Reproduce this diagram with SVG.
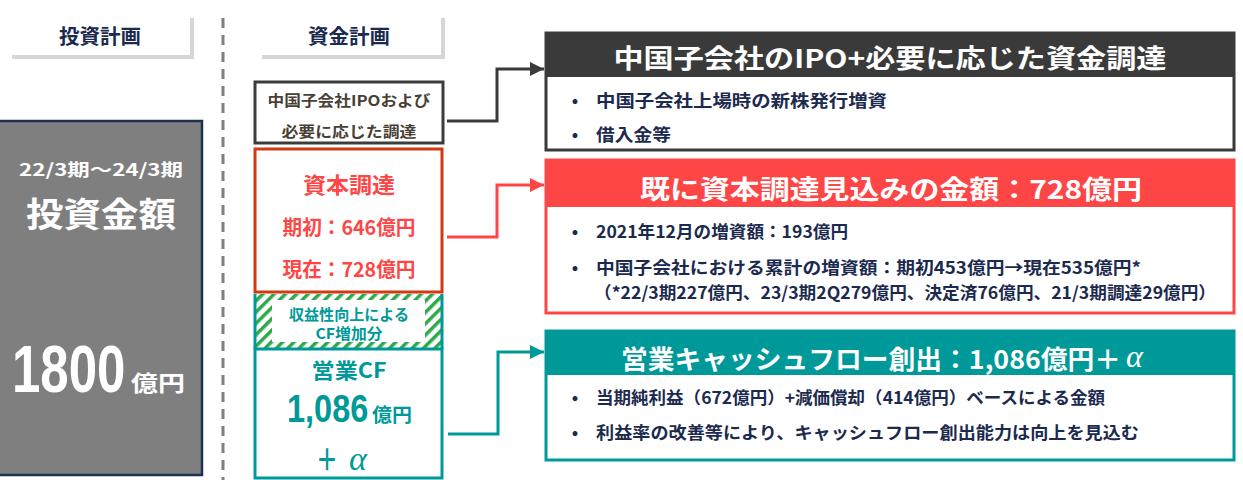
<svg xmlns="http://www.w3.org/2000/svg" width="1243" height="480" viewBox="0 0 1243 480">
<style>
.t{font-family:"Noto Sans CJK JP","Noto Sans",sans-serif;font-weight:bold;}
.num{font-family:"Liberation Sans",Arial,sans-serif;font-weight:bold;}
.navy{fill:#1B2A4E;}
.w{fill:#ffffff;}
.red{fill:#FF4646;}
.teal{fill:#00999A;}
.hd{font-size:20px;}
.ttl{font-size:26px;}
.bl{font-size:17px;}
.conn{fill:none;stroke-width:3;}
</style>
<defs>
<marker id="aG" markerUnits="userSpaceOnUse" markerWidth="14" markerHeight="14" viewBox="0 0 10 10" refX="10" refY="5" orient="auto"><path d="M0,0 L10,5 L0,10 z" fill="#3A3A3A"/></marker>
<marker id="aR" markerUnits="userSpaceOnUse" markerWidth="14" markerHeight="14" viewBox="0 0 10 10" refX="10" refY="5" orient="auto"><path d="M0,0 L10,5 L0,10 z" fill="#FF4646"/></marker>
<marker id="aT" markerUnits="userSpaceOnUse" markerWidth="14" markerHeight="14" viewBox="0 0 10 10" refX="10" refY="5" orient="auto"><path d="M0,0 L10,5 L0,10 z" fill="#00999A"/></marker>
<pattern id="hatch" width="8" height="8" patternUnits="userSpaceOnUse" patternTransform="rotate(45)"><rect width="8" height="8" fill="#ffffff"/><rect width="3.5" height="8" fill="#2EA84A"/></pattern>
</defs>
<rect width="1243" height="480" fill="#ffffff"/>

<!-- section headings -->
<g id="heading-invest">
<path d="M12,57 L192,57 L192,18" fill="none" stroke="#D6D6D6" stroke-width="4"/>
<text class="t navy hd" x="100" y="35" text-anchor="middle" dominant-baseline="central" textLength="82" lengthAdjust="spacingAndGlyphs">投資計画</text>
</g>
<g id="heading-fund">
<path d="M262,57 L443,57 L443,18" fill="none" stroke="#D6D6D6" stroke-width="4"/>
<text class="t navy hd" x="349" y="35" text-anchor="middle" dominant-baseline="central" textLength="82" lengthAdjust="spacingAndGlyphs">資金計画</text>
</g>

<line x1="223" y1="18" x2="223" y2="480" stroke="#7F7F7F" stroke-width="3" stroke-dasharray="10 7"/>

<!-- investment amount -->
<g id="invest-box">
<rect x="-2" y="121" width="204" height="354" fill="#7F7F7F" stroke="#1F2F50" stroke-width="2.5"/>
<text class="t w" x="101" y="168" font-size="17" text-anchor="middle" dominant-baseline="central" textLength="164" lengthAdjust="spacingAndGlyphs">22/3期～24/3期</text>
<text class="t w" x="101" y="212" font-size="34" text-anchor="middle" dominant-baseline="central" textLength="150" lengthAdjust="spacingAndGlyphs">投資金額</text>
<text class="num w" font-size="51" transform="translate(12,392) scale(1,1.3)">1800</text>
<text class="t w" x="131" y="391" font-size="22" textLength="54" lengthAdjust="spacingAndGlyphs">億円</text>
</g>

<!-- funding plan boxes -->
<g id="fund-ipo">
<rect x="255" y="82" width="188" height="61" fill="#ffffff" stroke="#3C3C3C" stroke-width="3"/>
<text class="t" x="349" y="99" font-size="15" fill="#4A3F35" font-weight="normal" text-anchor="middle" dominant-baseline="central" textLength="163" lengthAdjust="spacingAndGlyphs">中国子会社IPOおよび</text>
<text class="t" x="349" y="130" font-size="15" fill="#4A3F35" font-weight="normal" text-anchor="middle" dominant-baseline="central" textLength="135" lengthAdjust="spacingAndGlyphs">必要に応じた調達</text>
</g>
<g id="fund-capital">
<rect x="255" y="149" width="187" height="143" fill="#ffffff" stroke="#D23A12" stroke-width="3"/>
<text class="t red" x="349" y="183" font-size="22" text-anchor="middle" dominant-baseline="central" textLength="92" lengthAdjust="spacingAndGlyphs">資本調達</text>
<text class="t red" x="349" y="226" font-size="20" text-anchor="middle" dominant-baseline="central" textLength="133" lengthAdjust="spacingAndGlyphs">期初：646億円</text>
<text class="t red" x="349" y="268" font-size="20" text-anchor="middle" dominant-baseline="central" textLength="133" lengthAdjust="spacingAndGlyphs">現在：728億円</text>
</g>
<g id="fund-increase">
<rect x="255" y="294" width="187" height="55" fill="url(#hatch)"/>
<rect x="272" y="300" width="153" height="42" fill="#ffffff"/>
<line x1="255" y1="294" x2="255" y2="349" stroke="#00999A" stroke-width="3"/>
<line x1="442" y1="294" x2="442" y2="349" stroke="#00999A" stroke-width="3"/>
<text class="t teal" x="349" y="313" font-size="15" font-weight="normal" text-anchor="middle" dominant-baseline="central" textLength="120" lengthAdjust="spacingAndGlyphs">収益性向上による</text>
<text class="t teal" x="349" y="332" font-size="15" font-weight="normal" text-anchor="middle" dominant-baseline="central" textLength="67" lengthAdjust="spacingAndGlyphs">CF増加分</text>
</g>
<g id="fund-cf">
<rect x="255" y="349" width="187" height="129" fill="#ffffff" stroke="#00999A" stroke-width="3"/>
<text class="t teal" x="349" y="369" font-size="21" text-anchor="middle" dominant-baseline="central" textLength="75" lengthAdjust="spacingAndGlyphs">営業CF</text>
<text class="num teal" font-size="32.5" transform="translate(287,422) scale(1,1.17)">1,086</text>
<text class="t teal" x="372" y="422" font-size="19" textLength="40" lengthAdjust="spacingAndGlyphs">億円</text>
<text class="t teal" x="316" y="470" font-size="30" textLength="22" lengthAdjust="spacingAndGlyphs">＋</text>
<text class="teal" x="349" y="470" font-size="34" font-family="Liberation Serif, serif" font-style="italic">α</text>
</g>

<!-- right detail boxes -->
<g id="detail-ipo">
<rect x="546" y="33" width="688" height="117" fill="#ffffff" stroke="#3A3A3A" stroke-width="3"/>
<rect x="546" y="33" width="688" height="44" fill="#3A3A3A"/>
<text class="t w ttl" x="890" y="56" text-anchor="middle" dominant-baseline="central" textLength="553" lengthAdjust="spacingAndGlyphs">中国子会社のIPO+必要に応じた資金調達</text>
<text class="t navy bl" x="575" y="99" text-anchor="middle" dominant-baseline="central">•</text>
<text class="t navy bl" x="596" y="99" dominant-baseline="central" textLength="291" lengthAdjust="spacingAndGlyphs">中国子会社上場時の新株発行増資</text>
<text class="t navy bl" x="575" y="133" text-anchor="middle" dominant-baseline="central">•</text>
<text class="t navy bl" x="596" y="133" dominant-baseline="central" textLength="75" lengthAdjust="spacingAndGlyphs">借入金等</text>
</g>
<g id="detail-capital">
<rect x="546" y="160" width="688" height="153" fill="#ffffff" stroke="#FF4646" stroke-width="3"/>
<rect x="546" y="160" width="688" height="47" fill="#FF4646"/>
<text class="t w ttl" x="891" y="187" text-anchor="middle" dominant-baseline="central" textLength="502" lengthAdjust="spacingAndGlyphs">既に資本調達見込みの金額：728億円</text>
<text class="t navy bl" x="575" y="230" text-anchor="middle" dominant-baseline="central">•</text>
<text class="t navy bl" x="596" y="230" dominant-baseline="central" textLength="252" lengthAdjust="spacingAndGlyphs">2021年12月の増資額：193億円</text>
<text class="t navy bl" x="575" y="266" text-anchor="middle" dominant-baseline="central">•</text>
<text class="t navy bl" x="596" y="266" dominant-baseline="central" textLength="545" lengthAdjust="spacingAndGlyphs">中国子会社における累計の増資額：期初453億円→現在535億円*</text>
<text class="t navy bl" x="594" y="291" dominant-baseline="central" textLength="622" lengthAdjust="spacingAndGlyphs">（*22/3期227億円、23/3期2Q279億円、決定済76億円、21/3期調達29億円）</text>
</g>
<g id="detail-cf">
<rect x="546" y="331" width="688" height="129" fill="#ffffff" stroke="#00999A" stroke-width="3"/>
<rect x="546" y="331" width="688" height="44" fill="#00999A"/>
<text class="t w ttl" x="621" y="357" dominant-baseline="central" textLength="500" lengthAdjust="spacingAndGlyphs">営業キャッシュフロー創出：1,086億円＋</text>
<text class="w" x="1126" y="367" font-size="32" font-family="Liberation Serif, serif" font-style="italic">α</text>
<text class="t navy bl" x="575" y="396" text-anchor="middle" dominant-baseline="central">•</text>
<text class="t navy bl" x="596" y="396" dominant-baseline="central" textLength="509" lengthAdjust="spacingAndGlyphs">当期純利益（672億円）+減価償却（414億円）ベースによる金額</text>
<text class="t navy bl" x="575" y="431" text-anchor="middle" dominant-baseline="central">•</text>
<text class="t navy bl" x="596" y="431" dominant-baseline="central" textLength="543" lengthAdjust="spacingAndGlyphs">利益率の改善等により、キャッシュフロー創出能力は向上を見込む</text>
</g>

<!-- connectors -->
<g id="connectors">
<polyline class="conn" points="447,121 497,121 497,69 544,69" stroke="#3A3A3A" marker-end="url(#aG)"/>
<polyline class="conn" points="447,237 497,237 497,185 544,185" stroke="#FF4646" marker-end="url(#aR)"/>
<polyline class="conn" points="448,434 498,434 498,352 544,352" stroke="#00999A" marker-end="url(#aT)"/>
</g>
</svg>
